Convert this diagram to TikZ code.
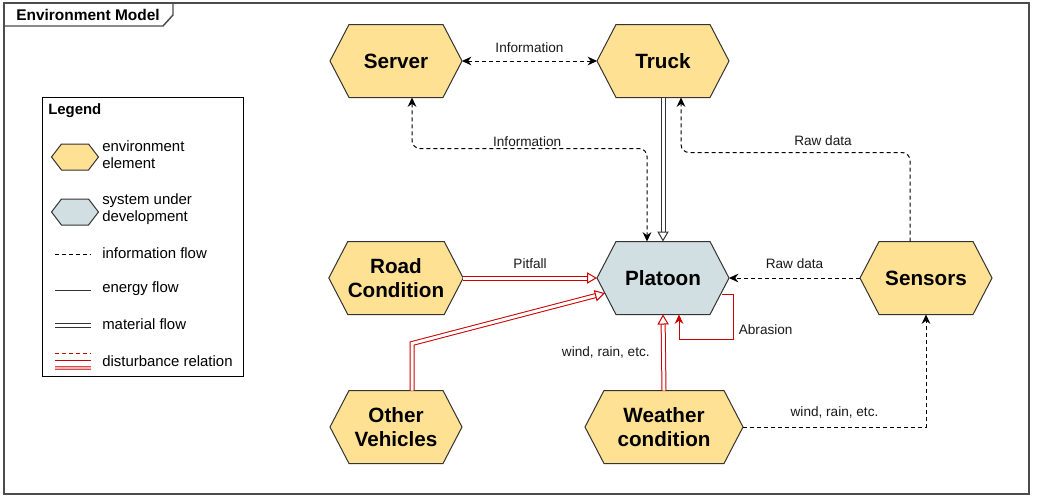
\documentclass[tikz,border=0pt]{standalone}
\usepackage{fontspec}
\setmainfont{Liberation Sans}
\usetikzlibrary{shapes.symbols,arrows.meta,calc}

\definecolor{envfill}{HTML}{FFE194}
\definecolor{sudfill}{HTML}{D1DEE2}
\definecolor{distred}{HTML}{CC0000}
\definecolor{linegrey}{HTML}{333333}

\tikzset{
  hexa/.style={signal, signal to=west and east, draw=linegrey, line width=0.75pt,
    outer sep=0pt, inner sep=0pt, align=center,
    font=\fontsize{15.5}{18}\selectfont\bfseries},
  env/.style={hexa, fill=envfill, minimum width=99pt, minimum height=54.75pt, signal pointer angle=125},
  sud/.style={env, fill=sudfill},
  keyhex/.style={minimum width=35.25pt, minimum height=19.5pt, signal pointer angle=105},
  lbl/.style={font=\fontsize{10.2}{12}\selectfont, text=black!90, inner sep=1pt},
  keytext/.style={anchor=west, align=left, inner sep=0pt, font=\fontsize{11.2}{12.75}\selectfont},
  info/.style={draw=black, line width=0.75pt, dash pattern=on 3pt off 2.25pt},
  energy/.style={draw=linegrey, line width=0.75pt},
  material/.style={draw=linegrey, line width=0.75pt, double=white, double distance=2.25pt,
    -{Triangle[open, length=7.5pt, width=8.5pt]}},
  disturb/.style={draw=distred, line width=0.75pt, double=white, double distance=2.25pt,
    -{Triangle[open, length=7.5pt, width=8.5pt]}},
  abrasion/.style={draw=distred, line width=0.75pt, -{Stealth[length=7pt, width=6.5pt]}},
  tip/.style={-{Stealth[length=7pt, width=6.5pt]}},
  tips/.style={{Stealth[length=7pt, width=6.5pt]}-{Stealth[length=7pt, width=6.5pt]}},
  frame/.style={draw=black!70, line width=1.1pt},
}

\begin{document}
\begin{tikzpicture}[x=0.75pt, y=-0.75pt]
  \useasboundingbox (0,0) rectangle (1037,501);
  % frame with title tab
  \draw[frame] (4,3) rectangle (1029,494);
  \draw[frame] (4,26) -- (163,26) -- (173,15) -- (173,3);
  \node[anchor=west, inner sep=0pt, font=\fontsize{11.6}{13}\selectfont\bfseries] (title) at (16,15) {Environment Model};

  % environment elements
  \node[env] (server) at (396,61) {Server};
  \node[env] (truck) at (663,61) {Truck};
  \node[sud] (platoon) at (663,278) {Platoon};
  \node[env] (road) at (396,278) {Road\\Condition};
  \node[env] (other) at (396,427) {Other\\Vehicles};
  \node[env, minimum width=118.5pt] (weather) at (664,427) {Weather\\condition};
  \node[env] (sensors) at (926,278) {Sensors};

  % information flow
  \draw[info, tips] (server.east) -- node[lbl, above=5pt] {Information} (truck.west);
  \draw[info, tips, rounded corners=6pt] ($(server.south)+(16,0)$) |- node[lbl, above, pos=0.745] {Information} ($(platoon.north)+(-16,-93)$) -- ($(platoon.north)+(-16,0)$);
  \draw[info, tip, rounded corners=6pt] ($(sensors.north)+(-16,0)$) |- node[lbl, above=4pt, pos=0.69] {Raw data} ($(truck.south)+(18,55)$) -- ($(truck.south)+(18,0)$);
  \draw[info, tip] (sensors.west) -- node[lbl, above=6pt] {Raw data} (platoon.east);
  \draw[info, tip] (weather.east) -| node[lbl, above=5pt, pos=0.25] {wind, rain, etc.} (sensors.south);

  % material flow
  \draw[material] (truck.south) -- (platoon.north);

  % disturbances
  \draw[disturb] (road.east) -- node[lbl, above=6pt] {Pitfall} (platoon.west);
  \draw[disturb] ($(other.north)+(16,0)$) -- ++(0,-47) -- (platoon);
  \draw[disturb] (weather.north) -- node[lbl, left=9pt] {wind, rain, etc.} (platoon.south);
  \draw[abrasion] ($(platoon.east)+(-7,16)$) -- ++(11,0) |- node[lbl, right=3pt, pos=0.39] {Abrasion} ($(platoon.south)+(16,25)$) -- ($(platoon.south)+(16,0)$);

  % legend
  \draw[draw=black, line width=0.75pt] (42,97) rectangle (243,376);
  \node[anchor=west, inner sep=0pt, font=\fontsize{11.2}{13}\selectfont\bfseries] (legendtitle) at (48,111) {Legend};
  \node[env, keyhex] (keyenv) at (75,157) {};
  \node[keytext] (keyenvtext) at (102,155) {environment\\element};
  \node[sud, keyhex] (keysud) at (75,212) {};
  \node[keytext] (keysudtext) at (102,209) {system under\\development};
  \foreach \y/\sty/\txt in {254/info/information flow, 290/energy/energy flow, 325/material/material flow} {
    \draw[\sty, -] (55,\y) -- (91,\y);
    \node[keytext] at (102,\y-1) {\txt};
  }
  \draw[draw=distred, line width=0.75pt, dash pattern=on 3pt off 2.25pt] (55,353) -- (91,353);
  \draw[draw=distred, line width=0.75pt] (55,360) -- (91,360);
  \draw[draw=distred!70, line width=0.75pt, double=distred!30, double distance=1.5pt] (55,368) -- (91,368);
  \node[keytext] (keydisttext) at (102,361) {disturbance relation};
\end{tikzpicture}
\end{document}
